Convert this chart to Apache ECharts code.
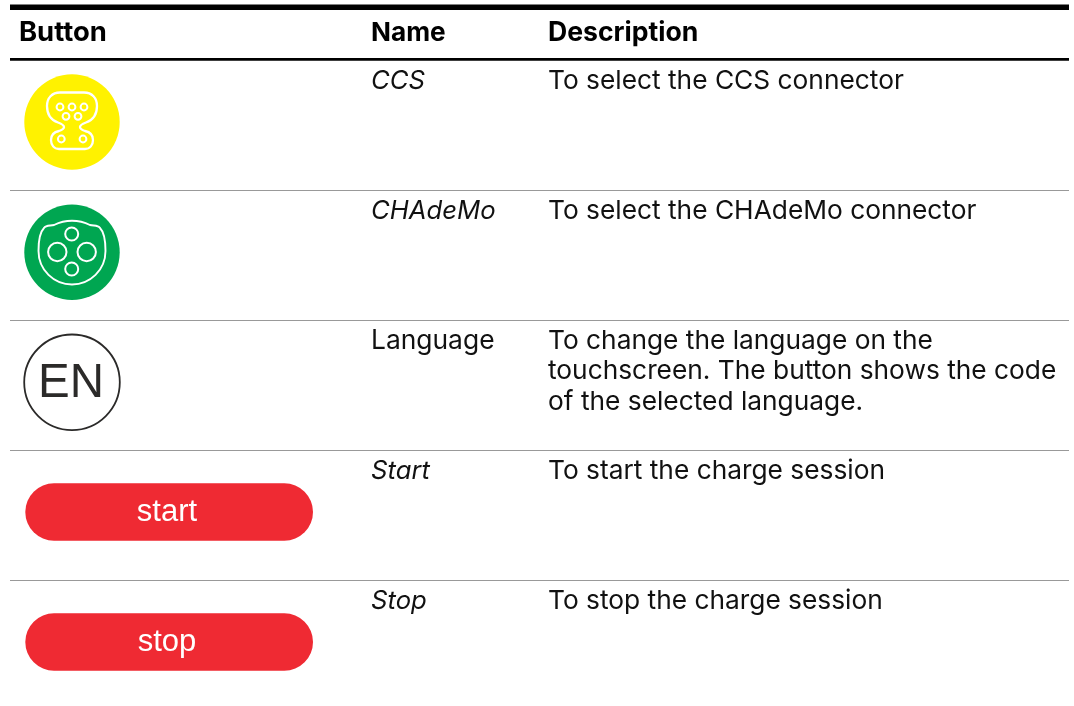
<!DOCTYPE html>
<html><head><meta charset="utf-8">
<style>html,body{margin:0;padding:0;background:#fff}#c{width:1074px;height:706px}</style>
<script src="https://cdn.jsdelivr.net/npm/echarts@6/dist/echarts.min.js"></script>
</head><body><div id="c"></div>
<script>
const headers = ['Button','Name','Description'];
const names = ['CCS','CHAdeMo','Language','Start','Stop'];
const nameItalic = [true,true,false,true,true];
const descriptions = [
 ['To select the CCS connector'],
 ['To select the CHAdeMo connector'],
 ['To change the language on the','touchscreen. The button shows the code','of the selected language.'],
 ['To start the charge session'],
 ['To stop the charge session']
];
const pillLabels = ['start','stop'];
const rowTops = [60,190,320,450,580];
const font = 'Inter,"Open Sans",sans-serif';
const g = [];
const rect=(x,y,w,h,fill)=>g.push({type:'rect',shape:{x,y,width:w,height:h},style:{fill}});
const txt=(x,y,t,o={})=>g.push({type:'text',x,y,style:{text:t,font:`${o.italic?'italic ':''}${o.weight||'normal'} ${o.size||26.3}px ${o.family||font}`,fill:o.fill||'#111',align:o.align||'left',verticalAlign:'middle'}});
const circ=(cx,cy,r,st)=>g.push({type:'circle',shape:{cx,cy,r},style:st});
echarts.graphic.registerShape('ccsOutline',echarts.graphic.extendPath('M60 92.5 L84 92.5 C92 92.5 97 98 97 106 C97 114 93 120 86 122.5 C82 124 80 125 80 127 C80 129 82 130 85 131 C90 132 93 135 93 140 C93 145 90 149 85 149 L59 149 C54 149 51 145 51 140 C51 135 54 132 59 131 C62 130 64 129 64 127 C64 125 62 124 58 122.5 C51 120 47 114 47 106 C47 98 52 92.5 60 92.5 Z',{}));
echarts.graphic.registerShape('chaOutline',echarts.graphic.extendPath('M44 228 C46 225 50 226 54 225 C60 222 66 220.7 72 220.7 C78 220.7 84 222 90 225 C94 226 98 225 100 228 C104 232 105.5 240 105.5 251 C105.5 270 90 284.5 72 284.5 C54 284.5 38.5 270 38.5 251 C38.5 240 40 232 44 228 Z',{}));
rect(10,4.5,1059,5.5,'#000');
rect(10,58,1059,2.7,'#000');
rowTops.slice(1).forEach(y=>rect(10,y,1059,1,'#999'));
txt(19,33,headers[0],{weight:'bold',fill:'#000',size:27.4});
txt(371,33,headers[1],{weight:'bold',fill:'#000',size:26.2});
txt(548,33,headers[2],{weight:'bold',fill:'#000',size:26.6});
names.forEach((n,i)=>{
  txt(371,rowTops[i]+21,n,{italic:nameItalic[i],size:nameItalic[i]?25.7:26.4});
  descriptions[i].forEach((l,j)=>txt(548,rowTops[i]+21+j*30.5,l));
});
// CCS
circ(72,122,47.7,{fill:'#fff200'});
g.push({type:'ccsOutline',style:{fill:'none',stroke:'#fff',lineWidth:2.3}});
[[60,107],[72,107],[84,107],[66,116.3],[78,116.3],[61.3,139],[83,139]].forEach(p=>circ(p[0],p[1],3.4,{fill:'none',stroke:'#fff',lineWidth:2}));
// CHAdeMO
circ(72,252.3,47.7,{fill:'#00a651'});
g.push({type:'chaOutline',style:{fill:'none',stroke:'#fff',lineWidth:1.9}});
[[71.7,234,6.5],[57.3,252,9.2],[86.7,252,9.2],[71.7,269,6.5]].forEach(p=>circ(p[0],p[1],p[2],{fill:'none',stroke:'#fff',lineWidth:2}));
// EN
circ(72,382.3,47.8,{fill:'none',stroke:'#2b2a29',lineWidth:1.8});
txt(71,384,'EN',{family:'"Liberation Sans",Arial,sans-serif',size:47.5,align:'center',fill:'#2b2a29'});
// pills
[[512,0],[642,1]].forEach(([cy,i])=>{
  g.push({type:'rect',shape:{x:25.3,y:cy-28.7,width:287.7,height:57.4,r:28.7},style:{fill:'#ef2a33'}});
  txt(167,cy,pillLabels[i],{family:'"Liberation Sans",Arial,sans-serif',size:31,align:'center',fill:'#fff'});
});
const chart=echarts.init(document.getElementById('c'),null,{renderer:'canvas'});
chart.setOption({animation:false,graphic:{elements:g}});
</script></body></html>
